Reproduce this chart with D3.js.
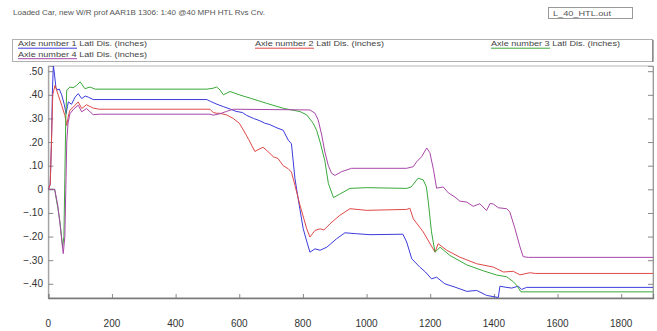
<!DOCTYPE html>
<html>
<head>
<meta charset="utf-8">
<script src="https://cdn.jsdelivr.net/npm/d3@7/dist/d3.min.js"></script>
<style>
  html, body { margin: 0; padding: 0; background: #fff; }
  svg { display: block; font-family: Arial, "Liberation Sans", sans-serif; }
</style>
</head>
<body>
<svg id="chart" width="657" height="331"></svg>
<script>
// Lateral displacement per axle, [distance, inches]
const axle1 = [[0,0],[6,0.02],[10,0.2],[13,0.42],[16,0.525],[20,0.48],[24,0.43],[30,0.42],[34,0.425],[42,0.40],[50,0.36],[56,0.32],[60,0.35],[63,0.37],[73,0.36],[84,0.39],[94,0.405],[105,0.384],[116,0.395],[126,0.39],[141,0.38],[498,0.38],[510,0.372],[530,0.36],[550,0.35],[571,0.34],[590,0.33],[610,0.325],[623,0.313],[645,0.30],[665,0.29],[680,0.28],[696,0.274],[715,0.262],[738,0.25],[754,0.208],[764,0.193],[775,0.045],[790,-0.08],[801,-0.167],[812,-0.22],[822,-0.266],[838,-0.252],[854,-0.258],[875,-0.245],[906,-0.209],[932,-0.184],[969,-0.188],[1011,-0.192],[1114,-0.19],[1126,-0.223],[1142,-0.294],[1168,-0.33],[1185,-0.35],[1204,-0.379],[1220,-0.372],[1246,-0.40],[1278,-0.414],[1315,-0.432],[1346,-0.428],[1377,-0.449],[1414,-0.458],[1419,-0.41],[1435,-0.414],[1456,-0.418],[1477,-0.41],[1487,-0.424],[1503,-0.415],[1900,-0.415]];
const axle2 = [[0,0],[6,0.02],[10,0.2],[14,0.40],[21,0.44],[31,0.40],[42,0.356],[52,0.313],[58,0.27],[63,0.31],[68,0.335],[80,0.35],[94,0.37],[105,0.342],[120,0.358],[141,0.344],[160,0.339],[508,0.339],[518,0.325],[529,0.322],[539,0.322],[560,0.315],[581,0.30],[600,0.28],[613,0.251],[630,0.21],[649,0.16],[662,0.17],[675,0.178],[690,0.16],[707,0.138],[722,0.13],[738,0.10],[754,0.087],[764,0.073],[775,0.017],[791,-0.068],[812,-0.167],[822,-0.202],[838,-0.174],[854,-0.167],[866,-0.172],[885,-0.146],[916,-0.11],[948,-0.082],[1000,-0.089],[1126,-0.085],[1136,-0.08],[1147,-0.125],[1178,-0.18],[1215,-0.266],[1225,-0.23],[1252,-0.258],[1293,-0.287],[1346,-0.315],[1398,-0.329],[1430,-0.35],[1461,-0.347],[1482,-0.362],[1513,-0.353],[1530,-0.356],[1900,-0.356]];
const axle3 = [[0,0],[20,0],[30,-0.08],[37,-0.14],[45,-0.245],[49,-0.2],[52,0.05],[55,0.3],[58,0.42],[68,0.433],[78,0.43],[89,0.44],[100,0.455],[115,0.426],[131,0.433],[147,0.424],[498,0.424],[518,0.428],[529,0.433],[540,0.42],[550,0.40],[571,0.414],[600,0.40],[634,0.386],[686,0.364],[738,0.343],[791,0.329],[812,0.315],[832,0.28],[843,0.25],[854,0.2],[869,0.12],[880,0.025],[896,-0.035],[916,-0.02],[948,0.004],[1000,0.007],[1126,0.004],[1140,0.01],[1162,0.047],[1178,0.04],[1188,0.01],[1194,-0.054],[1204,-0.18],[1215,-0.266],[1231,-0.245],[1262,-0.28],[1315,-0.32],[1367,-0.345],[1409,-0.363],[1440,-0.37],[1461,-0.391],[1472,-0.407],[1485,-0.434],[1900,-0.434]];
const axle4 = [[0,0],[20,0],[30,-0.07],[37,-0.15],[47,-0.272],[52,-0.2],[55,0.0],[58,0.2],[62,0.28],[68,0.32],[80,0.34],[94,0.356],[105,0.328],[120,0.342],[141,0.316],[160,0.318],[508,0.318],[518,0.314],[540,0.32],[560,0.33],[581,0.339],[822,0.336],[838,0.322],[848,0.294],[859,0.23],[869,0.158],[880,0.1],[890,0.068],[901,0.059],[922,0.075],[953,0.089],[1126,0.089],[1147,0.096],[1157,0.116],[1173,0.138],[1189,0.175],[1199,0.155],[1210,0.085],[1220,0.005],[1241,0.01],[1257,-0.015],[1278,-0.033],[1293,-0.05],[1315,-0.054],[1335,-0.072],[1356,-0.061],[1377,-0.09],[1388,-0.06],[1398,-0.062],[1414,-0.078],[1440,-0.082],[1450,-0.095],[1466,-0.165],[1482,-0.243],[1492,-0.285],[1508,-0.288],[1900,-0.288]];

const seriesNames = ["Axle number 1", "Axle number 2", "Axle number 3", "Axle number 4"];
const seriesSuffix = " Latl Dis. (inches)";
const seriesColors = ["#3b3bdc", "#e04848", "#3aa83a", "#a846a8"];
const xTicks = [0, 200, 400, 600, 800, 1000, 1200, 1400, 1600, 1800];
const yTicks = [0.5, 0.4, 0.3, 0.2, 0.1, 0, -0.1, -0.2, -0.3, -0.4];
const titleText = "Loaded Car, new W/R prof AAR1B 1306: 1:40 @40 MPH HTL Rvs Crv.";
const fileName = "L_40_HTL.out";

const series = [axle1, axle2, axle3, axle4];
const svg = d3.select("#chart");

const plot = { left: 48.3, right: 653, top: 66, bottom: 298 };
const x = d3.scaleLinear().domain([0, 1900]).range([plot.left, plot.right]);
const y = d3.scaleLinear().domain([-0.46, 0.522]).range([plot.bottom, plot.top]);

// Header
svg.append("text").attr("x", 13).attr("y", 15)
  .attr("font-size", 7.5).attr("fill", "#555")
  .attr("textLength", 252).attr("lengthAdjust", "spacingAndGlyphs").text(titleText);
svg.append("rect").attr("x", 548.5).attr("y", 7.5).attr("width", 84).attr("height", 11)
  .attr("fill", "#fff").attr("stroke", "#999");
svg.append("text").attr("x", 553).attr("y", 15.5)
  .attr("font-size", 7).attr("fill", "#555")
  .attr("textLength", 58).attr("lengthAdjust", "spacingAndGlyphs").text(fileName);

// Legend box
svg.append("rect").attr("x", 12.5).attr("y", 39.5).attr("width", 640).attr("height", 22)
  .attr("fill", "#fff").attr("stroke", "#b0b0b0");
svg.append("line").attr("x1", 653).attr("x2", 653).attr("y1", 40).attr("y2", 62)
  .attr("stroke", "#777").attr("stroke-width", 1.2);
const legendPos = [[18, 46], [255, 46], [491, 46], [18, 56.5]];
seriesNames.forEach((name, i) => {
  const g = svg.append("g").attr("transform", `translate(${legendPos[i][0]},${legendPos[i][1]})`);
  g.append("text").attr("font-size", 7.8).attr("fill", "#444")
    .attr("textLength", 129).attr("lengthAdjust", "spacingAndGlyphs")
    .text(name + seriesSuffix);
  g.append("line").attr("x1", 0).attr("x2", 59).attr("y1", 2.2).attr("y2", 2.2)
    .attr("stroke", seriesColors[i]).attr("stroke-width", 1);
});

// Frame
svg.append("rect").attr("x", plot.left).attr("y", plot.top)
  .attr("width", plot.right - plot.left).attr("height", plot.bottom - plot.top)
  .attr("fill", "none").attr("stroke", "#b5b5b5");

// Axes with inward ticks
const yFmt = d => d === 0 ? "0" : d3.format(".2f")(d).replace("0.", ".");
const gy = svg.append("g").attr("transform", `translate(${plot.left},0)`)
  .call(d3.axisRight(y).tickValues(yTicks).tickSize(5).tickFormat(""));
const gyR = svg.append("g").attr("transform", `translate(${plot.right},0)`)
  .call(d3.axisLeft(y).tickValues(yTicks).tickSize(5).tickFormat(""));
const gx = svg.append("g").attr("transform", `translate(0,${plot.bottom})`)
  .call(d3.axisTop(x).tickValues(xTicks).tickSize(4).tickFormat(""));
[gy, gyR, gx].forEach(g => {
  g.select(".domain").attr("stroke", "#999");
  g.selectAll(".tick line").attr("stroke", "#888");
});
gx.select(".domain").attr("stroke", "#777").attr("stroke-width", 1.3);

svg.append("g").selectAll("text").data(yTicks).join("text")
  .attr("x", 43).attr("y", d => y(d) + 3.5).attr("text-anchor", "end")
  .attr("font-size", 10).attr("fill", "#333").text(yFmt);
svg.append("g").selectAll("text").data(xTicks).join("text")
  .attr("x", d => x(d)).attr("y", 327).attr("text-anchor", "middle")
  .attr("font-size", 10).attr("fill", "#333").text(d => d);

// Lines
svg.append("clipPath").attr("id", "clip").append("rect")
  .attr("x", plot.left).attr("y", plot.top)
  .attr("width", plot.right - plot.left).attr("height", plot.bottom - plot.top);
const line = d3.line().x(d => x(d[0])).y(d => y(d[1]));
const lines = svg.append("g").attr("clip-path", "url(#clip)");
series.forEach((s, i) => {
  lines.append("path").datum(s).attr("d", line)
    .attr("fill", "none").attr("stroke", seriesColors[i]).attr("stroke-width", 1)
    .attr("stroke-linejoin", "round");
});
</script>
</body>
</html>
